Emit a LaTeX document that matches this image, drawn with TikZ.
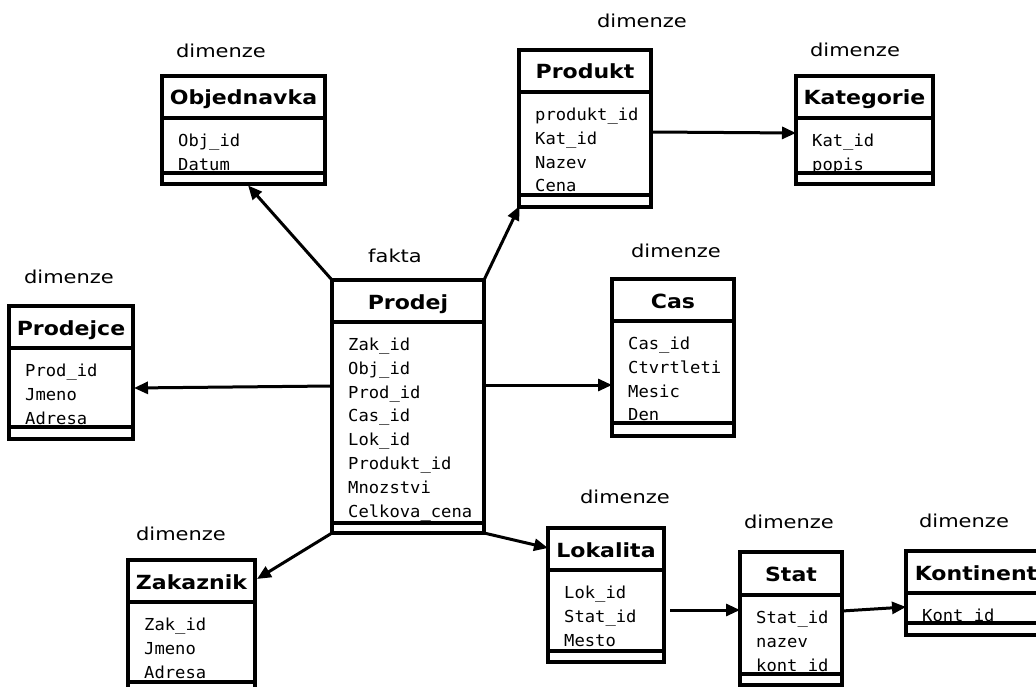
\documentclass[tikz,border=0pt]{standalone}
\usepackage{fontspec}
\usetikzlibrary{arrows.meta,calc}

\newfontfamily\labelfont[FakeStretch=1.18]{DejaVu Sans}
\newfontfamily\titlefont[FakeStretch=1.13]{DejaVu Sans}
\newfontfamily\attrfont[FakeStretch=1.04]{DejaVu Sans Mono}

\tikzset{
  ebox/.style={draw=black, line width=3.2pt, inner sep=0pt, outer sep=0pt, rectangle},
  rule/.style={draw=black, line width=3.2pt},
  titletext/.style={anchor=base, inner sep=0pt, font=\titlefont\bfseries\fontsize{19.5}{22}\selectfont},
  attrtext/.style={anchor=base west, inner sep=0pt, font=\attrfont\fontsize{16.5}{19}\selectfont},
  dimlabel/.style={anchor=base, inner sep=0pt, font=\labelfont\fontsize{17.8}{20}\selectfont},
  link/.style={line width=3pt, -{Triangle[length=14pt,width=12pt]}},
}

% entity box: name, left, top, right, title rule, bottom rule, bottom, title, attributes
\newcommand\entity[9]{%
  \node[ebox, anchor=north west, minimum width={(#4-#2)*1pt}, minimum height={(#7-#3)*1pt}] (#1) at (#2,#3) {};
  \node[titletext] (#1-title) at ({(#2+#4)/2},{(#3+#5)/2+8}) {#8};
  \foreach \attr [count=\k] in {#9} {
    \node[attrtext] (#1-a\k) at ({#2+16},{#5+22+(\k-1)*23.8+6.5}) {\attr};
  }
  \draw[rule] (#2,#5) -- (#4,#5);
  \draw[rule] (#2,#6) -- (#4,#6);
}

\begin{document}
\begin{tikzpicture}[x=1pt,y=-1pt]
\useasboundingbox (0,0) rectangle (1036,687);
\clip (0,0) rectangle (1036,687);

% fact table
\entity{prodej}{332}{280}{484}{322}{523}{533}{Prodej}
  {Zak\_id,Obj\_id,Prod\_id,Cas\_id,Lok\_id,Produkt\_id,Mnozstvi,Celkova\_cena}

% dimension tables
\entity{objednavka}{162}{76}{325}{118}{173}{184}{Objednavka}{Obj\_id,Datum}
\entity{produkt}{519}{50}{651}{92}{195}{207}{Produkt}{produkt\_id,Kat\_id,Nazev,Cena}
\entity{kategorie}{796}{76}{933}{118}{173}{184}{Kategorie}{Kat\_id,popis}
\entity{prodejce}{9}{306}{133}{348}{427}{439}{Prodejce}{Prod\_id,Jmeno,Adresa}
\entity{cas}{612}{279}{734}{321}{423}{436}{Cas}{Cas\_id,Ctvrtleti,Mesic,Den}
\entity{zakaznik}{128}{560}{255}{602}{682}{694}{Zakaznik}{Zak\_id,Jmeno,Adresa}
\entity{lokalita}{548}{528}{664}{570}{651}{662}{Lokalita}{Lok\_id,Stat\_id,Mesto}
\entity{stat}{740}{552}{842}{595}{674}{685}{Stat}{Stat\_id,nazev,kont\_id}
\entity{kontinent}{906}{551}{1046}{593}{623}{635}{Kontinent}{Kont\_id}

% captions
\node[dimlabel] (lbl-fakta) at (395,262) {fakta};
\node[dimlabel] (lbl-objednavka) at (221,58) {dimenze};
\node[dimlabel] (lbl-produkt) at (642,28) {dimenze};
\node[dimlabel] (lbl-kategorie) at (855,57) {dimenze};
\node[dimlabel] (lbl-prodejce) at (69,283) {dimenze};
\node[dimlabel] (lbl-cas) at (676,258) {dimenze};
\node[dimlabel] (lbl-lokalita) at (625,503) {dimenze};
\node[dimlabel] (lbl-stat) at (789,528) {dimenze};
\node[dimlabel] (lbl-kontinent) at (964,527) {dimenze};
\node[dimlabel] (lbl-zakaznik) at (181,540) {dimenze};

% references
\coordinate (lokstat) at (670,610);
\draw[link, shorten >=2pt] (prodej.north west) -- ($(objednavka.south west)!0.52!(objednavka.south east)$);
\draw[link, shorten >=-1pt] (prodej.north east) -- (produkt.south west);
\draw[link] ($(produkt.north east)+(0,82)$) -- ($(kategorie.north west)+(0,57)$);
\draw[link, shorten >=1pt] ($(prodej.north west)+(0,106)$) -- ($(prodejce.north east)+(0,82)$);
\draw[link] ($(prodej.north east)+(0,105)$) -- ($(cas.north west)+(0,106)$);
\draw[link] (prodej.south west) -- ($(zakaznik.north east)+(2,19)$);
\draw[link] (prodej.south east) -- ($(lokalita.north west)+(0,20)$);
\draw[link] (lokstat) -- ($(stat.north west)+(0,58)$);
\draw[link] ($(stat.north east)+(0,59)$) -- ($(kontinent.north west)+(0,56)$);
\end{tikzpicture}
\end{document}
